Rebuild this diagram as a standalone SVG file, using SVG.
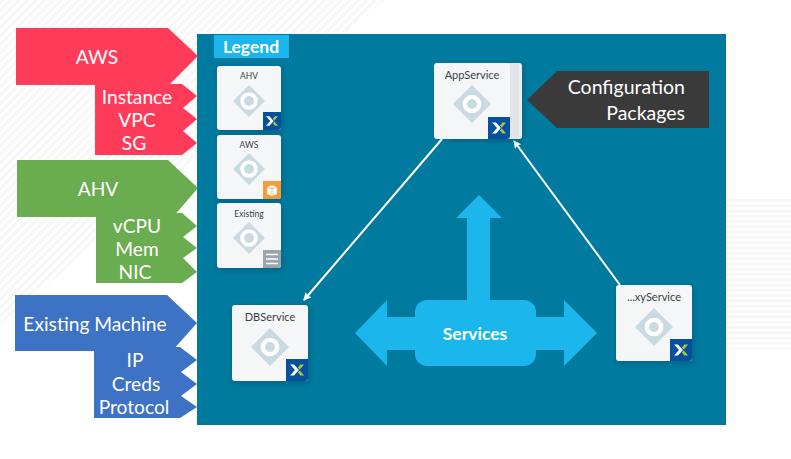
<svg xmlns="http://www.w3.org/2000/svg" width="791" height="459" viewBox="0 0 791 459">
<style>
text{font-family:"Lato","Open Sans","Liberation Sans",sans-serif;fill:#fff;text-anchor:middle}
.big{font-size:19.2px}
.aws{fill:#ff3b5a}.ahv{fill:#6aad50}.ex{fill:#3d72c4}
.card{fill:#f5f6f8}
.lbl{font-size:8.5px;fill:#3a3f45}
.lblb{font-size:11px;fill:#3a3f45}
.dia{fill:#c9dae0}
.ring{fill:none;stroke:#fff;stroke-width:3.8}
.ringb{fill:none;stroke:#fff;stroke-width:4.3}
.nut{fill:#07509e}
.conn{stroke:#fff;stroke-width:2;fill:none}
.sv{fill:#1ab6ec}
</style>
<defs>
<pattern id="hatch" width="6" height="6" patternUnits="userSpaceOnUse" patternTransform="rotate(-45)"><rect width="6" height="6" fill="#fff"/><rect width="6" height="3" fill="#f7f7f7"/></pattern>
<pattern id="stripes" width="6" height="5.300" patternUnits="userSpaceOnUse" y="199"><rect width="6" height="5.300" fill="#fff"/><rect width="6" height="2.500" fill="#f6f6f6"/></pattern>
<filter id="sh" x="-20%" y="-20%" width="150%" height="150%"><feDropShadow dx="1" dy="2" stdDeviation="3" flood-color="#00364d" flood-opacity=".35"/></filter>
<marker id="ah" markerWidth="9" markerHeight="9" refX="7" refY="4" orient="auto" markerUnits="userSpaceOnUse"><path d="M0,0L8,4L0,8L1.500,4Z" fill="#fff"/></marker>
<g id="mark"><path d="M-7,-5.500H-3L2,0L-3,5.500H-7L-2,0Z" fill="#fff"/><path d="M7,-5.500H3.500L1,-2.600L2.800,-.6Z M7,5.500H3.500L1,2.600L2.800,.6Z" fill="#a8d03a"/></g>
</defs>
<rect width="791" height="459" fill="#fff"/>
<path d="M0,0H385L0,325Z" fill="url(#hatch)"/>
<rect x="726" y="199" width="65" height="150" fill="url(#stripes)"/>
<rect x="197" y="34" width="529" height="391" fill="#007a9e"/>
<g id="legend"><rect x="214" y="35" width="75" height="23" fill="#1ab6ec"/><text x="251" y="53" font-size="17.500" font-weight="700">Legend</text></g>

<g id="aws-group">
<path class="aws" d="M16,28H168L198,56L169,85H16Z"/>
<path class="aws" d="M95,84H182L197,96L183,108L197,119L183,131L197,143L182,155H95Z"/>
<text class="big" x="97" y="64">AWS</text>
<text class="big" x="137" y="104">Instance</text>
<text class="big" x="137" y="127">VPC</text>
<text class="big" x="134" y="150">SG</text>
</g>
<g id="ahv-group">
<path class="ahv" d="M17,160H168L198,188L173,217H17Z"/>
<path class="ahv" d="M96,213H182L197,226L183,237L197,248L183,258L197,272L182,283H96Z"/>
<text class="big" x="98" y="196">AHV</text>
<text class="big" x="137" y="233">vCPU</text>
<text class="big" x="137" y="256">Mem</text>
<text class="big" x="135" y="279">NIC</text>
</g>
<g id="existing-group">
<path class="ex" d="M15,295H167L197,323L172,351H15Z"/>
<path class="ex" d="M94,347H180L197,360L181,372L197,384L181,396L197,407L180,418H94Z"/>
<text class="big" x="95" y="331">Existing Machine</text>
<text class="big" x="135" y="367">IP</text>
<text class="big" x="136" y="391">Creds</text>
<text class="big" x="134" y="414">Protocol</text>
</g>

<g id="card-ahv"><rect class="card" x="217" y="66" width="64" height="64" rx="3" filter="url(#sh)"/><text class="lbl" x="249" y="79">AHV</text><path class="dia" d="M249,85L265,101L249,117L233,101Z"/><circle class="ring" cx="249" cy="101" r="6.900"/><path class="nut" d="M263,112H281V127a3,3 0 0 1-3,3H263Z"/><use href="#mark" transform="translate(272,121) scale(.85)"/></g>
<g id="card-aws"><rect class="card" x="217" y="135" width="64" height="64" rx="3" filter="url(#sh)"/><text class="lbl" x="249" y="148">AWS</text><path class="dia" d="M249,153L265,169L249,185L233,169Z"/><circle class="ring" cx="249" cy="169" r="6.900"/><path d="M263,181H281V196a3,3 0 0 1-3,3H263Z" fill="#f89a35"/><path d="M267,187L272,185L277,187V194L272,196L267,194Z" fill="#fff"/><path d="M267,187L272,189L277,187M272,189V196" stroke="#f89a35" stroke-width=".7" fill="none"/></g>
<g id="card-existing"><rect class="card" x="217" y="203" width="64" height="65" rx="3" filter="url(#sh)"/><text class="lbl" x="249" y="217">Existing</text><path class="dia" d="M249,222L265,238L249,254L233,238Z"/><circle class="ring" cx="249" cy="238" r="6.900"/><path d="M263,250H281V265a3,3 0 0 1-3,3H263Z" fill="#9aa5ad"/><path d="M266,254.500H278M266,259H278M266,263.500H278" stroke="#fff" stroke-width="1.600"/></g>

<g id="connectors">
<path class="conn" d="M442,139L304,300" marker-end="url(#ah)"/>
<path class="conn" d="M620,285L514,141" marker-end="url(#ah)"/>
</g>

<g id="appservice">
<rect x="446" y="63" width="76" height="76" rx="3" fill="#eceef0" filter="url(#sh)"/>
<rect x="440" y="63" width="79" height="76" rx="3" fill="#e2e5e8"/>
<rect class="card" x="434" y="63" width="76" height="76" rx="3"/>
<text class="lblb" x="472" y="79">AppService</text><path class="dia" d="M472,85L491,104L472,123L453,104Z"/><circle class="ringb" cx="472" cy="104" r="7.200"/><path class="nut" d="M488,117H510V136a3,3 0 0 1-3,3H488Z"/><use href="#mark" transform="translate(499,128)"/>
</g>
<g id="config"><path fill="#3a3a3a" d="M527,100L557,71H709V128H557Z"/><text x="685" y="94" style="text-anchor:end;font-size:19.500px">Configuration</text><text x="685" y="120" style="text-anchor:end;font-size:19.500px">Packages</text></g>
<g id="dbservice"><rect class="card" x="232" y="305" width="76" height="76" rx="3" filter="url(#sh)"/><text class="lblb" x="270" y="321">DBService</text><path class="dia" d="M270,328L289,347L270,366L251,347Z"/><circle class="ringb" cx="270" cy="347" r="7.200"/><path class="nut" d="M286,359H308V378a3,3 0 0 1-3,3H286Z"/><use href="#mark" transform="translate(297,370)"/></g>
<g id="proxyservice"><rect class="card" x="616" y="285" width="76" height="76" rx="3" filter="url(#sh)"/><text class="lblb" x="654" y="301">...xyService</text><path class="dia" d="M654,308L673,327L654,346L635,327Z"/><circle class="ringb" cx="654" cy="327" r="7.200"/><path class="nut" d="M670,339H692V358a3,3 0 0 1-3,3H670Z"/><use href="#mark" transform="translate(681,350)"/></g>
<g id="services"><path class="sv" d="M467,305V218H456L479,195L502,218H490V305Z"/><path class="sv" d="M420,317H387V300L355,333L387,366V350H420Z"/><path class="sv" d="M530,317H564V300L597,333L564,366V350H530Z"/><rect class="sv" x="415" y="300" width="121" height="66" rx="12"/><text x="475" y="340" font-size="17.500" font-weight="700">Services</text></g>
</svg>
